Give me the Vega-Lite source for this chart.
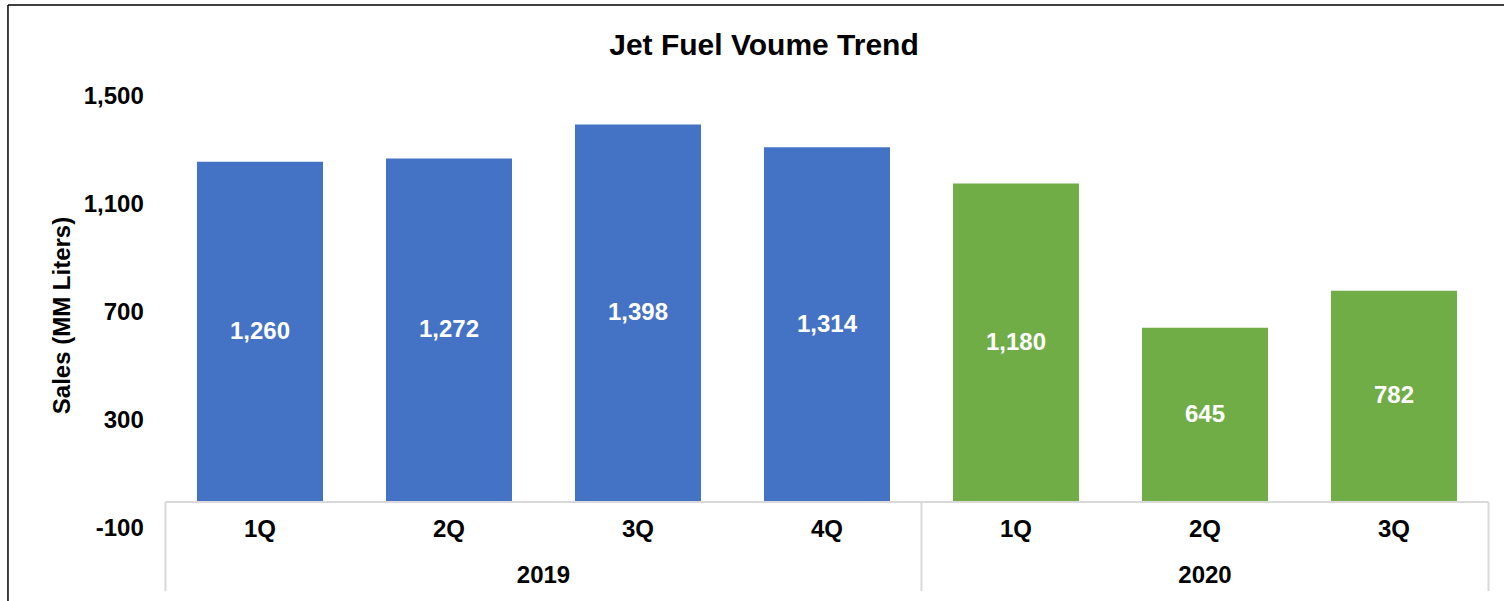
{
  "$schema": "https://vega.github.io/schema/vega-lite/v6.json",
  "width": 1496,
  "height": 596,
  "autosize": {"type": "none"},
  "padding": {"left": 8, "top": 5, "right": 0, "bottom": 0},
  "background": "white",
  "title": {"text": "Jet Fuel Voume Trend", "font": "Liberation Sans", "fontSize": 30, "fontWeight": "bold", "color": "#000000", "anchor": "middle", "frame": "group", "dx": 8, "offset": -57},
  "config": {
    "view": {"stroke": null},
    "font": "Liberation Sans",
    "axis": {"domain": false, "grid": false, "ticks": false},
    "axisRight": {"domain": false, "labels": false, "ticks": false, "grid": false, "title": null},
    "axisBottom": {"domain": false, "labels": false, "ticks": false, "grid": false, "title": null}
  },
  "data": {"values": [
    {"key": "2019-1Q", "year": "2019", "quarter": "1Q", "value": 1260},
    {"key": "2019-2Q", "year": "2019", "quarter": "2Q", "value": 1272},
    {"key": "2019-3Q", "year": "2019", "quarter": "3Q", "value": 1398},
    {"key": "2019-4Q", "year": "2019", "quarter": "4Q", "value": 1314},
    {"key": "2020-1Q", "year": "2020", "quarter": "1Q", "value": 1180},
    {"key": "2020-2Q", "year": "2020", "quarter": "2Q", "value": 645},
    {"key": "2020-3Q", "year": "2020", "quarter": "3Q", "value": 782}
  ]},
  "layer": [
    {
      "mark": {"type": "bar"},
      "encoding": {
        "x": {"field": "key", "type": "nominal", "scale": {"paddingInner": 0.3333, "paddingOuter": 0.6243, "align": 0.8008},
              "axis": {"orient": "top", "labels": false, "ticks": false, "title": null, "domain": false, "grid": false}},
        "y": {"field": "value", "type": "quantitative", "scale": {"domain": [-366.67, 1840.74], "nice": false, "zero": false},
              "axis": {"orient": "left", "title": "Sales (MM Liters)", "values": [-100, 300, 700, 1100, 1500], "labelExpr": "replace(format(datum.value, ',.0f'), '\u2212', '-')", "grid": false, "ticks": false, "domain": false,
                       "labelFont": "Liberation Sans", "labelFontSize": 24, "labelFontWeight": "bold", "labelColor": "#000000",
                       "labelPadding": -135.3, "labelAlign": "right", "labelBaseline": "middle",
                       "titleFont": "Liberation Sans", "titleFontSize": 24, "titleFontWeight": "bold", "titleColor": "#000000",
                       "titleX": 54.5, "titleY": 310, "titleAngle": -90, "titleAlign": "center", "titleBaseline": "middle"}},
        "color": {"field": "year", "type": "nominal", "scale": {"domain": ["2019", "2020"], "range": ["#4472C4", "#70AD47"]}, "legend": null}
      }
    },
    {
      "data": {"values": [{"key": "2019-1Q"}]},
      "mark": {"type": "rule", "color": "#000000", "strokeWidth": 1.5},
      "encoding": {
        "x": {"field": "key", "type": "nominal", "bandPosition": -1.5,
              "axis": {"orient": "top", "labels": false, "ticks": false, "title": null, "domain": false, "grid": false}}
      }
    },
    {
      "data": {"values": [{"edge": "top"}]},
      "mark": {"type": "rule", "color": "#000000", "strokeWidth": 1.5},
      "encoding": {
        "y": {"datum": 1840.74, "type": "quantitative",
              "axis": {"orient": "left", "title": "Sales (MM Liters)", "values": [-100, 300, 700, 1100, 1500], "labelExpr": "replace(format(datum.value, ',.0f'), '\u2212', '-')", "grid": false, "ticks": false, "domain": false,
                       "labelFont": "Liberation Sans", "labelFontSize": 24, "labelFontWeight": "bold", "labelColor": "#000000",
                       "labelPadding": -135.3, "labelAlign": "right", "labelBaseline": "middle",
                       "titleFont": "Liberation Sans", "titleFontSize": 24, "titleFontWeight": "bold", "titleColor": "#000000",
                       "titleX": 54.5, "titleY": 310, "titleAngle": -90, "titleAlign": "center", "titleBaseline": "middle"}}
      }
    },
    {
      "data": {"values": [{"key": "2019-1Q"}, {"key": "2020-1Q"}]},
      "mark": {"type": "rule", "color": "#d9d9d9", "strokeWidth": 2},
      "encoding": {
        "x": {"field": "key", "type": "nominal", "bandPosition": -0.25,
              "axis": {"orient": "top", "labels": false, "ticks": false, "title": null, "domain": false, "grid": false}},
        "y": {"datum": 0, "type": "quantitative",
              "axis": {"orient": "left", "title": "Sales (MM Liters)", "values": [-100, 300, 700, 1100, 1500], "labelExpr": "replace(format(datum.value, ',.0f'), '\u2212', '-')", "grid": false, "ticks": false, "domain": false,
                       "labelFont": "Liberation Sans", "labelFontSize": 24, "labelFontWeight": "bold", "labelColor": "#000000",
                       "labelPadding": -135.3, "labelAlign": "right", "labelBaseline": "middle",
                       "titleFont": "Liberation Sans", "titleFontSize": 24, "titleFontWeight": "bold", "titleColor": "#000000",
                       "titleX": 54.5, "titleY": 310, "titleAngle": -90, "titleAlign": "center", "titleBaseline": "middle"}},
        "y2": {"datum": -330}
      }
    },
    {
      "data": {"values": [{"key": "2020-3Q"}]},
      "mark": {"type": "rule", "color": "#d9d9d9", "strokeWidth": 2},
      "encoding": {
        "x": {"field": "key", "type": "nominal", "bandPosition": 1.25,
              "axis": {"orient": "top", "labels": false, "ticks": false, "title": null, "domain": false, "grid": false}},
        "y": {"datum": 0, "type": "quantitative",
              "axis": {"orient": "left", "title": "Sales (MM Liters)", "values": [-100, 300, 700, 1100, 1500], "labelExpr": "replace(format(datum.value, ',.0f'), '\u2212', '-')", "grid": false, "ticks": false, "domain": false,
                       "labelFont": "Liberation Sans", "labelFontSize": 24, "labelFontWeight": "bold", "labelColor": "#000000",
                       "labelPadding": -135.3, "labelAlign": "right", "labelBaseline": "middle",
                       "titleFont": "Liberation Sans", "titleFontSize": 24, "titleFontWeight": "bold", "titleColor": "#000000",
                       "titleX": 54.5, "titleY": 310, "titleAngle": -90, "titleAlign": "center", "titleBaseline": "middle"}},
        "y2": {"datum": -330}
      }
    },
    {
      "data": {"values": [{"first": "2019-1Q", "last": "2020-3Q"}]},
      "mark": {"type": "rule", "color": "#d9d9d9", "strokeWidth": 2},
      "encoding": {
        "x": {"field": "first", "type": "nominal", "bandPosition": -0.25,
              "axis": {"orient": "top", "labels": false, "ticks": false, "title": null, "domain": false, "grid": false}},
        "x2": {"field": "last", "bandPosition": 1.25},
        "y": {"datum": 0, "type": "quantitative",
              "axis": {"orient": "left", "title": "Sales (MM Liters)", "values": [-100, 300, 700, 1100, 1500], "labelExpr": "replace(format(datum.value, ',.0f'), '\u2212', '-')", "grid": false, "ticks": false, "domain": false,
                       "labelFont": "Liberation Sans", "labelFontSize": 24, "labelFontWeight": "bold", "labelColor": "#000000",
                       "labelPadding": -135.3, "labelAlign": "right", "labelBaseline": "middle",
                       "titleFont": "Liberation Sans", "titleFontSize": 24, "titleFontWeight": "bold", "titleColor": "#000000",
                       "titleX": 54.5, "titleY": 310, "titleAngle": -90, "titleAlign": "center", "titleBaseline": "middle"}}
      }
    },
    {
      "mark": {"type": "text", "color": "#ffffff", "font": "Liberation Sans", "fontSize": 24, "fontWeight": "bold", "baseline": "middle", "align": "center"},
      "encoding": {
        "x": {"field": "key", "type": "nominal",
              "axis": {"orient": "top", "labels": false, "ticks": false, "title": null, "domain": false, "grid": false}},
        "y": {"field": "value", "type": "quantitative", "stack": "zero", "bandPosition": 0.5,
              "axis": {"orient": "left", "title": "Sales (MM Liters)", "values": [-100, 300, 700, 1100, 1500], "labelExpr": "replace(format(datum.value, ',.0f'), '\u2212', '-')", "grid": false, "ticks": false, "domain": false,
                       "labelFont": "Liberation Sans", "labelFontSize": 24, "labelFontWeight": "bold", "labelColor": "#000000",
                       "labelPadding": -135.3, "labelAlign": "right", "labelBaseline": "middle",
                       "titleFont": "Liberation Sans", "titleFontSize": 24, "titleFontWeight": "bold", "titleColor": "#000000",
                       "titleX": 54.5, "titleY": 310, "titleAngle": -90, "titleAlign": "center", "titleBaseline": "middle"}},
        "text": {"field": "value", "type": "quantitative", "format": ","}
      }
    },
    {
      "mark": {"type": "text", "color": "#000000", "font": "Liberation Sans", "fontSize": 24, "fontWeight": "bold", "baseline": "middle", "align": "center", "dy": 1},
      "encoding": {
        "x": {"field": "key", "type": "nominal",
              "axis": {"orient": "top", "labels": false, "ticks": false, "title": null, "domain": false, "grid": false}},
        "y": {"datum": -100, "type": "quantitative",
              "axis": {"orient": "left", "title": "Sales (MM Liters)", "values": [-100, 300, 700, 1100, 1500], "labelExpr": "replace(format(datum.value, ',.0f'), '\u2212', '-')", "grid": false, "ticks": false, "domain": false,
                       "labelFont": "Liberation Sans", "labelFontSize": 24, "labelFontWeight": "bold", "labelColor": "#000000",
                       "labelPadding": -135.3, "labelAlign": "right", "labelBaseline": "middle",
                       "titleFont": "Liberation Sans", "titleFontSize": 24, "titleFontWeight": "bold", "titleColor": "#000000",
                       "titleX": 54.5, "titleY": 310, "titleAngle": -90, "titleAlign": "center", "titleBaseline": "middle"}},
        "text": {"field": "quarter", "type": "nominal"}
      }
    },
    {
      "data": {"values": [{"key": "2019-3Q", "year": "2019"}]},
      "mark": {"type": "text", "color": "#000000", "font": "Liberation Sans", "fontSize": 24, "fontWeight": "bold", "baseline": "middle", "align": "center"},
      "encoding": {
        "x": {"field": "key", "type": "nominal", "bandPosition": -0.25,
              "axis": {"orient": "top", "labels": false, "ticks": false, "title": null, "domain": false, "grid": false}},
        "y": {"datum": -274, "type": "quantitative",
              "axis": {"orient": "left", "title": "Sales (MM Liters)", "values": [-100, 300, 700, 1100, 1500], "labelExpr": "replace(format(datum.value, ',.0f'), '\u2212', '-')", "grid": false, "ticks": false, "domain": false,
                       "labelFont": "Liberation Sans", "labelFontSize": 24, "labelFontWeight": "bold", "labelColor": "#000000",
                       "labelPadding": -135.3, "labelAlign": "right", "labelBaseline": "middle",
                       "titleFont": "Liberation Sans", "titleFontSize": 24, "titleFontWeight": "bold", "titleColor": "#000000",
                       "titleX": 54.5, "titleY": 310, "titleAngle": -90, "titleAlign": "center", "titleBaseline": "middle"}},
        "text": {"field": "year", "type": "nominal"}
      }
    },
    {
      "data": {"values": [{"key": "2020-2Q", "year": "2020"}]},
      "mark": {"type": "text", "color": "#000000", "font": "Liberation Sans", "fontSize": 24, "fontWeight": "bold", "baseline": "middle", "align": "center"},
      "encoding": {
        "x": {"field": "key", "type": "nominal", "bandPosition": 0.5,
              "axis": {"orient": "top", "labels": false, "ticks": false, "title": null, "domain": false, "grid": false}},
        "y": {"datum": -274, "type": "quantitative",
              "axis": {"orient": "left", "title": "Sales (MM Liters)", "values": [-100, 300, 700, 1100, 1500], "labelExpr": "replace(format(datum.value, ',.0f'), '\u2212', '-')", "grid": false, "ticks": false, "domain": false,
                       "labelFont": "Liberation Sans", "labelFontSize": 24, "labelFontWeight": "bold", "labelColor": "#000000",
                       "labelPadding": -135.3, "labelAlign": "right", "labelBaseline": "middle",
                       "titleFont": "Liberation Sans", "titleFontSize": 24, "titleFontWeight": "bold", "titleColor": "#000000",
                       "titleX": 54.5, "titleY": 310, "titleAngle": -90, "titleAlign": "center", "titleBaseline": "middle"}},
        "text": {"field": "year", "type": "nominal"}
      }
    }
  ]
}
